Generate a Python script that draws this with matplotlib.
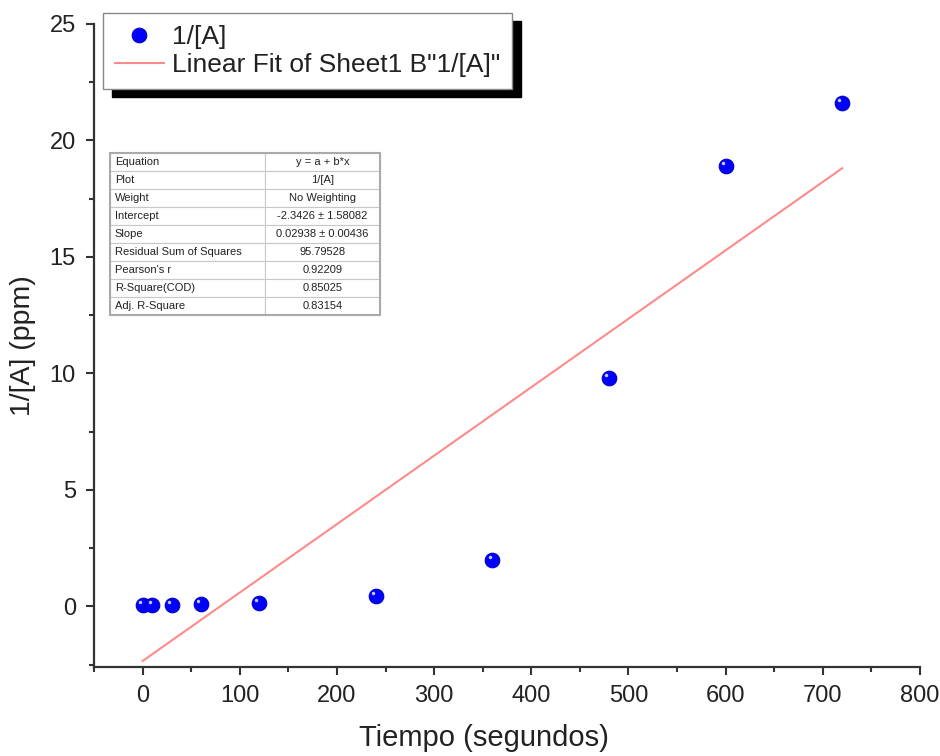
import matplotlib.pyplot as plt
import numpy as np
from matplotlib.transforms import ScaledTranslation
from matplotlib.patches import Rectangle
from matplotlib.ticker import MultipleLocator

plt.rcParams['font.family'] = ['Liberation Sans', 'DejaVu Sans']

# datos
tiempo = [0, 10, 30, 60, 120, 240, 360, 480, 600, 720]
inv_a = [0.05, 0.06, 0.08, 0.10, 0.15, 0.45, 2.0, 9.8, 18.9, 21.6]

intercepto = -2.3426
pendiente = 0.02938

tabla_nombres = ["Equation", "Plot", "Weight", "Intercept", "Slope",
                 "Residual Sum of Squares", "Pearson's r", "R-Square(COD)",
                 "Adj. R-Square"]
tabla_valores = ["y = a + b*x", "1/[A]", "No Weighting", "-2.3426 ± 1.58082",
                 "0.02938 ± 0.00436", "95.79528", "0.92209", "0.85025", "0.83154"]

txt = '#222222'

fig = plt.figure(figsize=(9.4, 7.56), dpi=100)
ax = fig.add_axes([94/940, 1-667/756, (920-94)/940, (667-24)/756])

x = np.array(tiempo)
y = np.array(inv_a)

xf = np.array([x.min(), x.max()])
ax.plot(xf, intercepto + pendiente*xf, color='#ff8a8a', lw=1.5,
        label='Linear Fit of Sheet1 B"1/[A]"', zorder=2)
ax.plot(x, y, 'o', ms=10.5, color='#0000ff', mec='#0000c0', mew=0.8,
        label='1/[A]', zorder=3)
hl = ax.transData + ScaledTranslation(-2/72, 2/72, fig.dpi_scale_trans)
ax.plot(x, y, 'o', ms=2.5, color='#c8c8ff', mec='none', transform=hl, zorder=4)

ax.set_xlim(-50, 800)
ax.set_ylim(-2.6, 25)
ax.xaxis.set_major_locator(MultipleLocator(100))
ax.xaxis.set_minor_locator(MultipleLocator(50))
ax.yaxis.set_major_locator(MultipleLocator(5))
ax.yaxis.set_minor_locator(MultipleLocator(2.5))
ax.spines['top'].set_visible(False)
ax.spines['right'].set_visible(False)
for s in ['left', 'bottom']:
    ax.spines[s].set_linewidth(1.6)
    ax.spines[s].set_color('#333333')
ax.tick_params(which='major', direction='out', length=6, width=1.5,
               labelsize=17, colors='#333333', labelcolor=txt, pad=7)
ax.tick_params(which='minor', direction='out', length=3.5, width=1.5,
               colors='#333333')

ax.set_xlabel('Tiempo (segundos)', fontsize=21, color=txt)
ax.xaxis.set_label_coords((484-94)/826, -0.088)
ax.set_ylabel('1/[A] (ppm)', fontsize=20.5, color=txt, labelpad=10)

# leyenda con sombra negra
h, l = ax.get_legend_handles_labels()
leg = fig.legend([h[1], h[0]], [l[1], l[0]], loc='upper left',
                 bbox_to_anchor=(103/940, 1-13/756), borderaxespad=0,
                 fontsize=19, fancybox=False, edgecolor='#888888',
                 framealpha=1, handlelength=1.85, handletextpad=0.3,
                 borderpad=0.45, labelspacing=0.15)
leg.get_frame().set_linewidth(1.0)
leg.set_zorder(6)
for t in leg.get_texts():
    t.set_color(txt)
fig.canvas.draw()
bb = leg.get_window_extent().transformed(fig.transFigure.inverted())
sombra = Rectangle((bb.x0 + 9/940, bb.y0 - 8/756), bb.width, bb.height,
                   transform=fig.transFigure, color='black', zorder=5)
fig.patches.append(sombra)

# tabla de ajuste
filas = [[n, v] for n, v in zip(tabla_nombres, tabla_valores)]
tb = ax.table(cellText=filas, cellLoc='left',
              bbox=[(110-94)/826, (667-315)/643, 270/826, 162/643],
              colWidths=[0.574, 0.426])
tb.auto_set_font_size(False)
tb.set_fontsize(8)
for (r, c), cell in tb.get_celld().items():
    cell.set_edgecolor('#c8c8c8')
    cell.set_linewidth(0.8)
    cell.PAD = 0.03
    cell.get_text().set_color(txt)
    if c == 1:
        cell.get_text().set_ha('center')
        cell._loc = 'center'
tb.set_zorder(6)
ax.add_patch(Rectangle(((110-94)/826, (667-315)/643), 270/826, 162/643,
                       transform=ax.transAxes, fill=False, ec='#aaaaaa',
                       lw=1.5, zorder=7))

fig.savefig('out.png', dpi=100)
